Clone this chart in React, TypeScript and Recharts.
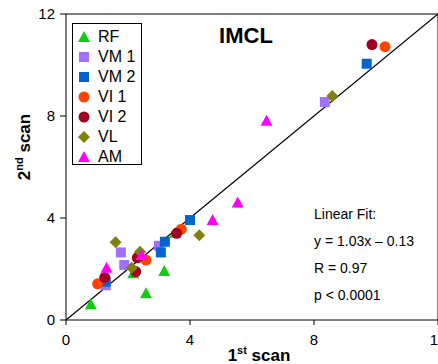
import React from 'react';
import {
  ScatterChart,
  Scatter,
  XAxis,
  YAxis,
  ReferenceLine,
  Customized,
} from 'recharts';

// values (1st scan vs 2nd scan)
const rf = [
  { x: 0.8, y: 0.62 },
  { x: 2.58, y: 1.05 },
  { x: 3.17, y: 1.92 },
  { x: 2.17, y: 1.83 },
  { x: 3.52, y: 3.42 },
];
const vm1 = [
  { x: 1.77, y: 2.65 },
  { x: 1.88, y: 2.16 },
  { x: 1.28, y: 1.36 },
  { x: 3.0, y: 2.91 },
  { x: 8.35, y: 8.55 },
];
const vm2 = [
  { x: 4.0, y: 3.92 },
  { x: 3.19, y: 3.07 },
  { x: 3.06, y: 2.65 },
  { x: 1.28, y: 1.5 },
  { x: 9.7, y: 10.05 },
];
const vi1 = [
  { x: 1.02, y: 1.42 },
  { x: 3.72, y: 3.56 },
  { x: 2.58, y: 2.35 },
  { x: 2.33, y: 2.48 },
  { x: 10.29, y: 10.72 },
];
const vi2 = [
  { x: 1.25, y: 1.67 },
  { x: 2.25, y: 1.9 },
  { x: 3.57, y: 3.4 },
  { x: 2.3, y: 2.44 },
  { x: 9.87, y: 10.8 },
];
const vl = [
  { x: 1.6, y: 3.05 },
  { x: 2.39, y: 2.68 },
  { x: 2.12, y: 2.05 },
  { x: 4.3, y: 3.32 },
  { x: 8.59, y: 8.78 },
];
const am = [
  { x: 1.31, y: 2.05 },
  { x: 2.44, y: 2.55 },
  { x: 4.73, y: 3.92 },
  { x: 5.54, y: 4.61 },
  { x: 6.47, y: 7.81 },
];

const ticks = [0, 4, 8, 12];
const fitLines = ['Linear Fit:', 'y = 1.03x \u2013 0.13', 'R = 0.97', 'p < 0.0001'];

type Kind = 'triangle' | 'square' | 'circle' | 'diamond';

const series: { name: string; data: { x: number; y: number }[]; color: string; kind: Kind }[] = [
  { name: 'RF', data: rf, color: '#11cc11', kind: 'triangle' },
  { name: 'VM 1', data: vm1, color: '#a070ff', kind: 'square' },
  { name: 'VM 2', data: vm2, color: '#0066cc', kind: 'square' },
  { name: 'VI 1', data: vi1, color: '#ff4400', kind: 'circle' },
  { name: 'VI 2', data: vi2, color: '#a00022', kind: 'circle' },
  { name: 'VL', data: vl, color: '#808010', kind: 'diamond' },
  { name: 'AM', data: am, color: '#ff00ff', kind: 'triangle' },
];

const FONT = '"Liberation Sans", Arial, sans-serif';

// draws one marker centred on (cx, cy)
const Marker = ({ cx, cy, kind, color }: { cx: number; cy: number; kind: Kind; color: string }) => {
  if (kind === 'circle') return <circle cx={cx} cy={cy} r={5.5} fill={color} />;
  if (kind === 'square') return <rect x={cx - 5} y={cy - 5} width={10} height={10} fill={color} />;
  if (kind === 'diamond')
    return <path d={`M${cx},${cy - 6}L${cx + 6},${cy}L${cx},${cy + 6}L${cx - 6},${cy}Z`} fill={color} />;
  return <path d={`M${cx},${cy - 6}L${cx + 6},${cy + 5}L${cx - 6},${cy + 5}Z`} fill={color} />;
};

const XLabel = () => (
  <text x={259} y={361} textAnchor="middle" fontFamily={FONT} fontWeight="bold" fontSize={17} fill="#000">
    1<tspan fontSize={11} dy={-7}>st</tspan>
    <tspan dy={7}> scan</tspan>
  </text>
);

const YLabel = () => (
  <text
    x={0}
    y={0}
    transform="translate(30,147) rotate(-90)"
    textAnchor="middle"
    fontFamily={FONT}
    fontWeight="bold"
    fontSize={17}
    fill="#000"
  >
    2<tspan fontSize={11} dy={-7}>nd</tspan>
    <tspan dy={7}> scan</tspan>
  </text>
);

const Annotations = () => (
  <g fontFamily={FONT} fill="#000">
    <text x={246} y={43} textAnchor="middle" fontWeight="bold" fontSize={22}>
      IMCL
    </text>
    {fitLines.map((t, i) => (
      <text key={t} x={314} y={219 + i * 27} fontSize={14}>
        {t}
      </text>
    ))}
  </g>
);

const LegendBox = () => (
  <div
    style={{
      position: 'absolute',
      left: 72,
      top: 23,
      width: 70,
      height: 142,
      border: '1px solid #000',
      background: '#fff',
      fontFamily: FONT,
      fontSize: 16,
      boxSizing: 'border-box',
      paddingTop: 3,
    }}
  >
    {series.map((s) => (
      <div key={s.name} style={{ display: 'flex', alignItems: 'center', height: 20 }}>
        <svg width={22} height={16} style={{ marginLeft: 2 }}>
          <Marker cx={9} cy={8} kind={s.kind} color={s.color} />
        </svg>
        <span style={{ marginLeft: 1 }}>{s.name}</span>
      </div>
    ))}
  </div>
);

export default function App() {
  return (
    <div style={{ position: 'absolute', left: 0, top: 0, width: 438, height: 364, overflow: 'hidden', background: '#fff' }}>
      <ScatterChart width={450} height={364} margin={{ top: 14, right: 12, bottom: 0, left: 0 }}>
        <XAxis
          type="number"
          dataKey="x"
          domain={[0, 12]}
          ticks={ticks}
          height={44}
          tickSize={5}
          tickMargin={9}
          stroke="#000"
          tick={{ fill: '#000', fontSize: 15, fontFamily: FONT }}
          label={{ content: () => <XLabel /> }}
        />
        <YAxis
          type="number"
          dataKey="y"
          domain={[0, 12]}
          ticks={ticks}
          width={66}
          tickSize={6}
          tickMargin={5}
          stroke="#000"
          tick={{ fill: '#000', fontSize: 15, fontFamily: FONT }}
          label={{ content: () => <YLabel /> }}
        />
        <ReferenceLine y={12} stroke="#000" />
        <ReferenceLine x={12} stroke="#000" />
        <ReferenceLine
          segment={[
            { x: 0, y: 0 },
            { x: 12, y: 12 },
          ]}
          stroke="#000"
          strokeWidth={1.2}
        />
        {series.map((s) => (
          <Scatter
            key={s.name}
            name={s.name}
            data={s.data}
            fill={s.color}
            isAnimationActive={false}
            shape={(p: any) => <Marker cx={p.cx} cy={p.cy} kind={s.kind} color={s.color} />}
          />
        ))}
        <Customized component={<Annotations />} />
      </ScatterChart>
      <LegendBox />
    </div>
  );
}
